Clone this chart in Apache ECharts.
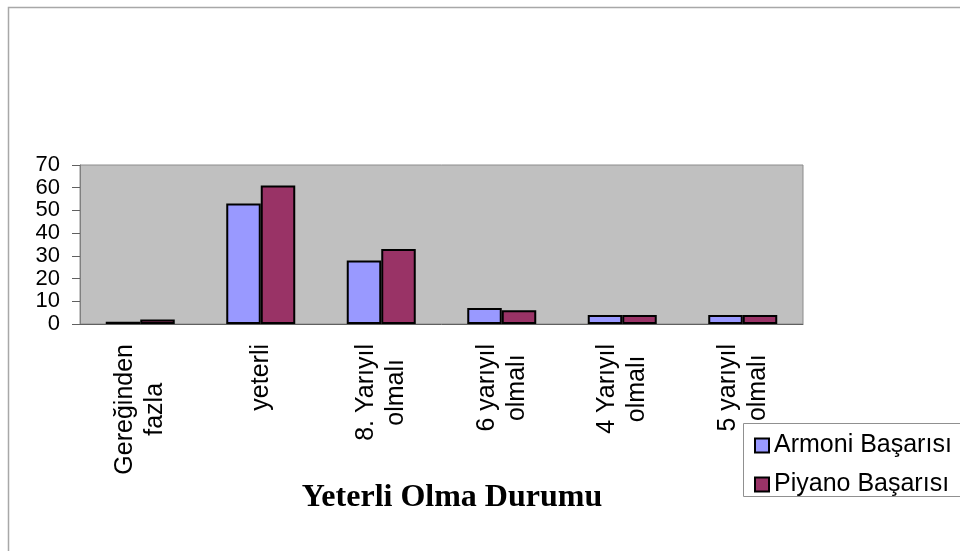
<!DOCTYPE html>
<html>
<head>
<meta charset="utf-8">
<title>Yeterli Olma Durumu</title>
<script src="https://cdn.jsdelivr.net/npm/echarts@6/dist/echarts.min.js"></script>
<style>
  html, body { margin: 0; padding: 0; background: #fff; }
  #chart { width: 960px; height: 551px; }
</style>
</head>
<body>
<div id="chart"></div>
<script>
  // kategoriler ve değerler
  var categories = ['Gereğinden\nfazla', 'yeterli', '8. Yarıyıl\nolmalı', '6 yarıyıl\nolmalı', '4 Yarıyıl\nolmalı', '5 yarıyıl\nolmalı'];
  var armoni = [1, 53, 28, 7, 4, 4];
  var piyano = [2, 61, 33, 6, 4, 4];
  var yTicks = [0, 10, 20, 30, 40, 50, 60, 70];
  var seriesNames = ['Armoni Başarısı', 'Piyano Başarısı'];

  var myChart = echarts.init(document.getElementById('chart'));
  var option = {
    animation: false,
    textStyle: { fontFamily: 'Liberation Sans, Arial, sans-serif' },
    grid: {
      left: 80,
      top: 165,
      width: 723,
      height: 159,
      show: true,
      backgroundColor: '#c0c0c0',
      borderColor: '#8c8c8c',
      borderWidth: 1
    },
    legend: {
      orient: 'vertical',
      left: 749,
      top: 428,
      itemWidth: 14,
      itemHeight: 14,
      itemGap: 14,
      icon: 'rect',
      textStyle: { fontSize: 25, color: '#000', fontFamily: 'Liberation Sans, Arial, sans-serif' },
      data: seriesNames
    },
    xAxis: {
      type: 'category',
      data: categories,
      axisLine: { lineStyle: { color: '#606060', width: 1 } },
      axisTick: { length: 9, lineStyle: { color: '#606060' } },
      axisLabel: {
        rotate: 90,
        margin: 20,
        interval: 0,
        color: '#000',
        fontSize: 25,
        lineHeight: 30,
        formatter: function (v) {
          return v.split('\n').map(function (s) { return '{c|' + s + '}'; }).join('\n');
        },
        rich: { c: { align: 'center', fontSize: 25, lineHeight: 30, color: '#000' } }
      }
    },
    yAxis: {
      type: 'value',
      min: yTicks[0],
      max: yTicks[yTicks.length - 1],
      interval: 10,
      splitLine: { show: false },
      axisLine: { show: true, lineStyle: { color: '#808080' } },
      axisTick: { show: true, length: 8, lineStyle: { color: '#606060' } },
      axisLabel: {
        color: '#000',
        fontSize: 22,
        margin: 20,
        showMinLabel: true,
        showMaxLabel: true
      }
    },
    series: [
      {
        name: seriesNames[0],
        type: 'bar',
        data: armoni,
        barWidth: 34.5,
        barGap: '0%',
        itemStyle: { color: '#9999ff', borderColor: '#000', borderWidth: 2 }
      },
      {
        name: seriesNames[1],
        type: 'bar',
        data: piyano,
        barWidth: 34.5,
        itemStyle: { color: '#993366', borderColor: '#000', borderWidth: 2 }
      }
    ],
    graphic: [
      {
        type: 'rect',
        shape: { x: 8.5, y: 7.5, width: 1000, height: 600 },
        style: { fill: 'none', stroke: '#a8a8a8', lineWidth: 1.5 },
        silent: true
      },
      {
        type: 'rect',
        shape: { x: 743.5, y: 423.5, width: 300, height: 73 },
        style: { fill: '#fff', stroke: '#909090', lineWidth: 1 },
        z: -1,
        silent: true
      },
      {
        type: 'text',
        x: 452,
        y: 482,
        style: {
          text: 'Yeterli Olma Durumu',
          font: 'bold 32px "Liberation Serif", "Times New Roman", serif',
          fill: '#000',
          textAlign: 'center',
          textVerticalAlign: 'top'
        }
      }
    ]
  };
  myChart.setOption(option);
</script>
</body>
</html>
